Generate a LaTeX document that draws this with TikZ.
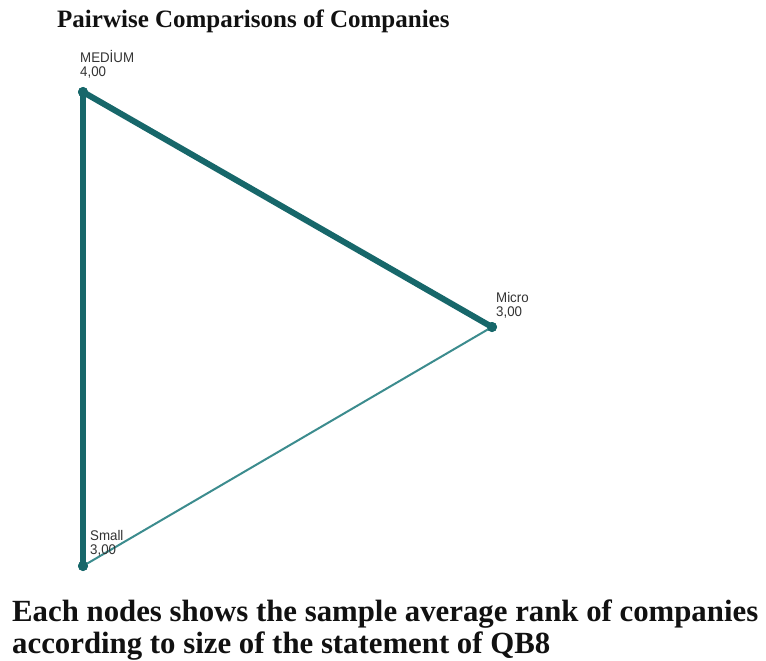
\documentclass[tikz,border=0pt]{standalone}
\usepackage{fontspec}
\setmainfont{Liberation Serif}
\newfontfamily\lblfont{Liberation Sans}
\usetikzlibrary{positioning}
\definecolor{edgedark}{HTML}{17676A}
\definecolor{edgelight}{HTML}{3C8C8E}
\definecolor{ink}{HTML}{111111}
\definecolor{lblink}{HTML}{333333}

\begin{document}
\begin{tikzpicture}[x=1pt,y=-1pt,line cap=round,line join=round,
  dot/.style={circle,fill=edgedark,inner sep=0pt,minimum size=10pt},
  strong/.style={line width=6pt,edgedark},
  weak/.style={line width=2pt,edgelight},
  lbl/.style={font=\lblfont\fontsize{14}{14}\selectfont,text=lblink,align=left,inner sep=0pt,anchor=south west,xscale=0.95},
  caption/.style={font=\bfseries\fontsize{30.8}{32}\selectfont,text=ink,align=left,inner sep=0pt,anchor=north west}]
  \useasboundingbox[fill=white] (0,0) rectangle (766,661);
  \node[font=\bfseries\fontsize{25}{27}\selectfont,text=ink,anchor=base west,inner sep=0pt] (title) at (57,28) {Pairwise Comparisons of Companies};

  % ---- nodes ----
  \node[dot] (medium) at (83,92) {};
  \node[dot] (micro) at (492,327) {};
  \node[dot] (small) at (83,566) {};

  % ---- edges ----
  \draw[weak] (micro.center) -- (small.center);
  \draw[strong] (medium.center) -- (micro.center);
  \draw[strong] (medium.center) -- (small.center);
  \node[dot] at (medium) {};
  \node[dot] at (micro) {};
  \node[dot] at (small) {};

  % ---- labels ----
  \node[lbl] (mediumlbl) at (80,78) {MEDİUM\\4,00};
  \node[lbl] (microlbl) at (496,318) {Micro\\3,00};
  \node[lbl] (smalllbl) at (90,556) {Small\\3,00};

  % ---- caption ----
  \node[caption] (note) at (12,600) {Each nodes shows the sample average rank of companies\\according to size of the statement of QB8};
\end{tikzpicture}
\end{document}
